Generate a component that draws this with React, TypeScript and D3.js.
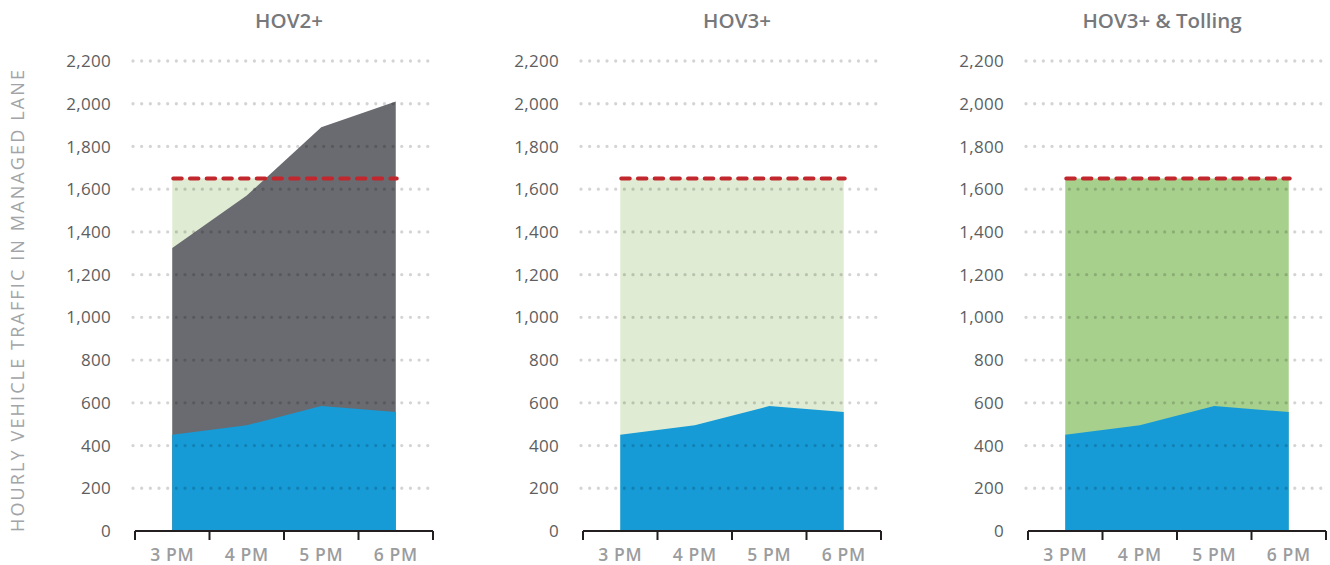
import React from "react";
import * as d3 from "d3";

const times = ["3 PM", "4 PM", "5 PM", "6 PM"];
const hovVehicles = [450, 495, 585, 557];
const hov2Total = [1325, 1570, 1890, 2010];
const laneCapacity = 1650;
const panelTitles = ["HOV2+", "HOV3+", "HOV3+ & Tolling"];
const yTicks = [0, 200, 400, 600, 800, 1000, 1200, 1400, 1600, 1800, 2000, 2200];
const yAxisTitle = "HOURLY VEHICLE TRAFFIC IN MANAGED LANE";

const W = 1330;
const H = 565;
const panelX = [135, 583, 1028];
const titleX = [289, 737, 1162];
const axisW = 298;
const yBottom = 531;
const yTop = 61;

const BLUE = "#169bd7";
const GRAY = "#6a6b70";
const LIGHT_GREEN = "#e0ebd3";
const GREEN = "#a8d08d";
const RED = "#c1272d";
const FONT = "'Open Sans', 'Noto Sans', sans-serif";

const y = d3.scaleLinear().domain([0, 2200]).range([yBottom, yTop]);

function Panel({ idx }: { idx: number }) {
  const x0 = panelX[idx];
  const x = d3.scaleBand<string>().domain(times).range([x0, x0 + axisW]).padding(0);
  const cx = (t: string) => (x(t) as number) + x.bandwidth() / 2;

  const area = d3
    .area<number>()
    .x((_, i) => cx(times[i]))
    .y0(y(0))
    .y1((d) => y(d));

  const capFill = idx === 2 ? GREEN : LIGHT_GREEN;
  const capArea = area(times.map(() => laneCapacity)) || "";
  const grayArea = area(hov2Total) || "";
  const blueArea = area(hovVehicles) || "";

  const gx0 = x0 - 2;
  const gx1 = x0 + 295;
  const firstX = cx(times[0]);
  const lastX = cx(times[times.length - 1]);
  const ticksX = [...times.map((t) => x(t) as number), x0 + axisW];

  return (
    <g>
      <text
        x={titleX[idx]}
        y={28}
        textAnchor="middle"
        fontFamily={FONT}
        fontWeight={600}
        fontSize={20.5}
        fill="#77787b"
      >
        {panelTitles[idx]}
      </text>
      <path d={capArea} fill={capFill} />
      {idx === 0 && <path d={grayArea} fill={GRAY} />}
      <path d={blueArea} fill={BLUE} />
      {yTicks
        .filter((v) => v > 0)
        .map((v) => (
          <line
            key={v}
            x1={gx0}
            x2={gx1}
            y1={y(v)}
            y2={y(v)}
            stroke="rgba(0,0,0,0.17)"
            strokeWidth={3.3}
            strokeLinecap="round"
            strokeDasharray="0 8.67"
          />
        ))}
      {yTicks.map((v) => (
        <text
          key={v}
          x={x0 - 24}
          y={y(v)}
          dy="0.36em"
          textAnchor="end"
          fontFamily={FONT}
          fontSize={17}
          letterSpacing={0.3}
          fill="#5d5e60"
        >
          {d3.format(",")(v)}
        </text>
      ))}
      <line
        x1={firstX + 1}
        x2={lastX + 1}
        y1={y(laneCapacity)}
        y2={y(laneCapacity)}
        stroke={RED}
        strokeWidth={4}
        strokeLinecap="round"
        strokeDasharray="8.5 8.2"
      />
      <line x1={x0} x2={x0 + axisW} y1={yBottom} y2={yBottom} stroke="#231f20" strokeWidth={2} />
      {ticksX.map((tx, i) => (
        <line key={i} x1={tx} x2={tx} y1={yBottom} y2={yBottom + 9} stroke="#231f20" strokeWidth={2} />
      ))}
      {times.map((t) => (
        <text
          key={t}
          x={cx(t)}
          y={561}
          textAnchor="middle"
          fontFamily={FONT}
          fontWeight={600}
          fontSize={17.5}
          letterSpacing={0.6}
          fill="#9b9c9e"
        >
          {t}
        </text>
      ))}
    </g>
  );
}

export default function App() {
  return (
    <svg
      width={W}
      height={H}
      viewBox={`0 0 ${W} ${H}`}
      style={{ position: "absolute", left: 0, top: 0, background: "#fff" }}
    >
      <rect x={0} y={0} width={W} height={H} fill="#fff" />
      <text
        transform={`translate(24, 301) rotate(-90)`}
        textAnchor="middle"
        fontFamily={FONT}
        fontSize={18}
        fill="#a2a4a7"
        textLength={462}
        lengthAdjust="spacing"
      >
        {yAxisTitle}
      </text>
      {[0, 1, 2].map((i) => (
        <Panel key={i} idx={i} />
      ))}
    </svg>
  );
}
